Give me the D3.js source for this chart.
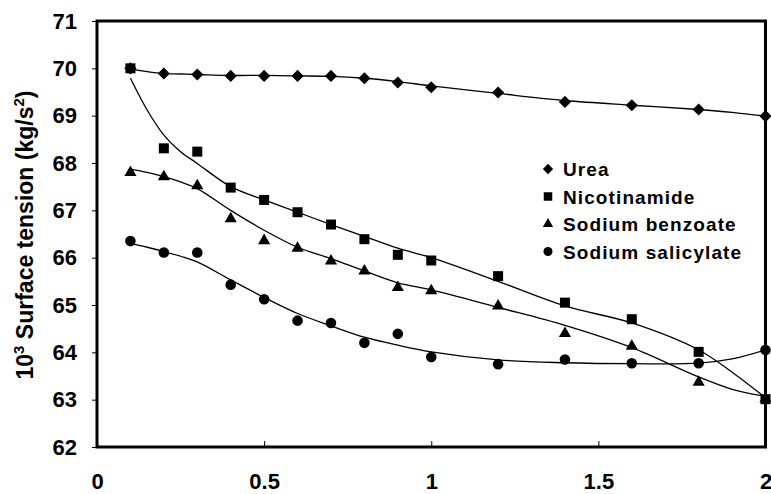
<!DOCTYPE html>
<html>
<head>
<meta charset="utf-8">
<script src="https://cdn.jsdelivr.net/npm/d3@7"></script>
<style>
  body { margin: 0; background: #fff; }
  text { font-family: "Liberation Sans", Arial, sans-serif; font-weight: bold; fill: #000; }
</style>
</head>
<body>
<svg id="chart" width="771" height="494"></svg>
<script>
// concentrations (x axis)
var conc = [0.1, 0.2, 0.3, 0.4, 0.5, 0.6, 0.7, 0.8, 0.9, 1.0, 1.2, 1.4, 1.6, 1.8, 2.0];

var urea         = [70.00, 69.89, 69.87, 69.84, 69.84, 69.84, 69.84, 69.79, 69.70, 69.60, 69.49, 69.29, 69.22, 69.13, 68.99];
var nicotinamide = [70.00, 68.31, 68.24, 67.48, 67.22, 66.96, 66.70, 66.39, 66.06, 65.94, 65.61, 65.05, 64.70, 64.01, 63.01];
var benzoate     = [67.80, 67.71, 67.52, 66.82, 66.36, 66.20, 65.93, 65.72, 65.37, 65.30, 64.98, 64.40, 64.13, 63.37, 63.02];
var salicylate   = [66.35, 66.11, 66.11, 65.43, 65.12, 64.67, 64.62, 64.20, 64.39, 63.90, 63.75, 63.85, 63.77, 63.77, 64.05];

// trendlines at these x positions
var fitConc          = [0.1, 0.15, 0.2, 0.25, 0.3, 0.4, 0.5, 0.6, 0.7, 0.8, 0.9, 1.0, 1.2, 1.4, 1.6, 1.8, 1.9, 2.0];
var ureaFit          = [69.99, 69.93, 69.89, 69.88, 69.87, 69.85, 69.85, 69.84, 69.83, 69.79, 69.72, 69.63, 69.47, 69.32, 69.22, 69.13, 69.07, 68.99];
var nicotinamideFit  = [69.79, 69.12, 68.59, 68.24, 67.99, 67.50, 67.22, 66.96, 66.70, 66.45, 66.20, 66.00, 65.50, 64.98, 64.62, 64.05, 63.58, 63.04];
var benzoateFit      = [67.87, 67.80, 67.71, 67.60, 67.46, 67.00, 66.58, 66.22, 65.98, 65.72, 65.47, 65.32, 64.95, 64.57, 64.10, 63.48, 63.22, 63.07];
var salicylateFit    = [66.30, 66.22, 66.13, 66.03, 65.91, 65.53, 65.16, 64.82, 64.56, 64.32, 64.15, 64.01, 63.84, 63.78, 63.76, 63.77, 63.86, 64.05];

var seriesNames = ["Urea", "Nicotinamide", "Sodium benzoate", "Sodium salicylate"];
var xTicks = [0, 0.5, 1, 1.5, 2];
var yTicks = [62, 63, 64, 65, 66, 67, 68, 69, 70, 71];

!(function(){
    "use strict"

    var svg = d3.select("#chart")
    var left = 97, right = 765.5, top = 21, bottom = 447

    var x = d3.scaleLinear().domain([0, 2]).range([left, right])
    var y = d3.scaleLinear().domain([62, 71]).range([bottom, top])

    var series = [
        {name: seriesNames[0], values: urea,         fit: ureaFit,         shape: "diamond"},
        {name: seriesNames[1], values: nicotinamide, fit: nicotinamideFit, shape: "square"},
        {name: seriesNames[2], values: benzoate,     fit: benzoateFit,     shape: "triangle"},
        {name: seriesNames[3], values: salicylate,   fit: salicylateFit,   shape: "circle"}
    ]

    var line = d3.line()
        .x(function(d, i) { return x(fitConc[i]) })
        .y(function(d) { return y(d) })
        .curve(d3.curveCatmullRom.alpha(0.5))

    series.forEach(function(s) {
        svg.append("path")
            .attr("d", line(s.fit))
            .attr("fill", "none")
            .attr("stroke", "#000")
            .attr("stroke-width", 1.3)
    })

    function symbolPath(shape, scale) {
        scale = scale || 1
        if (shape == "diamond") return d3.symbol().type(d3.symbolSquare).size(74 * scale * scale)()
        if (shape == "square") return d3.symbol().type(d3.symbolSquare).size(100 * scale * scale)()
        if (shape == "triangle") return d3.symbol().type(d3.symbolTriangle).size(64 * scale * scale)()
        return d3.symbol().type(d3.symbolCircle).size(88 * scale * scale)()
    }

    series.forEach(function(s) {
        svg.append("g").selectAll("path")
            .data(s.values)
            .enter()
            .append("path")
            .attr("d", symbolPath(s.shape))
            .attr("transform", function(d, i) {
                return "translate(" + x(conc[i]) + "," + y(d) + ")" + (s.shape == "diamond" ? " rotate(45)" : "")
            })
            .attr("fill", "#000")
    })

    // frame
    svg.append("rect")
        .attr("x", left).attr("y", top)
        .attr("width", right - left).attr("height", bottom - top)
        .attr("fill", "none").attr("stroke", "#000").attr("stroke-width", 3)

    // y axis: ticks outside
    var yAxis = svg.append("g").attr("transform", "translate(" + left + ",0)")
        .call(d3.axisLeft(y).tickValues(yTicks).tickSize(5).tickPadding(15).tickFormat(d3.format("d")))
    yAxis.select(".domain").remove()
    yAxis.attr("font-family", null)
    yAxis.selectAll("text").attr("font-size", 22)

    // x axis: ticks inside
    var xAxis = svg.append("g").attr("transform", "translate(0," + bottom + ")")
        .call(d3.axisBottom(x).tickValues(xTicks).tickSize(0).tickPadding(26).tickFormat(function(d) { return d }))
    xAxis.select(".domain").remove()
    xAxis.attr("font-family", null)
    xAxis.selectAll("text").attr("font-size", 22)
    xAxis.selectAll(".tick").filter(function(d) { return d > 0 && d < 2 })
        .append("line").attr("y1", 0).attr("y2", -6).attr("stroke", "#000")

    // y axis title
    var title = svg.append("text")
        .attr("transform", "translate(33,235) rotate(-90)")
        .attr("text-anchor", "middle")
        .attr("font-size", 23)
    title.append("tspan").text("10")
    title.append("tspan").text("3").attr("font-size", 15).attr("dy", -9)
    title.append("tspan").text(" Surface tension (kg/s").attr("dy", 9)
    title.append("tspan").text("2").attr("font-size", 15).attr("dy", -9)
    title.append("tspan").text(")").attr("dy", 9)

    // legend
    var legend = svg.append("g").attr("transform", "translate(548,169)")
    series.forEach(function(s, i) {
        var row = legend.append("g").attr("transform", "translate(0," + (i * 27.5) + ")")
        row.append("path")
            .attr("d", symbolPath(s.shape, 0.85))
            .attr("transform", s.shape == "diamond" ? "rotate(45)" : null)
            .attr("fill", "#000")
        row.append("text")
            .attr("x", 15).attr("y", 7)
            .attr("font-size", 19)
            .attr("letter-spacing", 1.1)
            .text(s.name)
    })
}());
</script>
</body>
</html>
